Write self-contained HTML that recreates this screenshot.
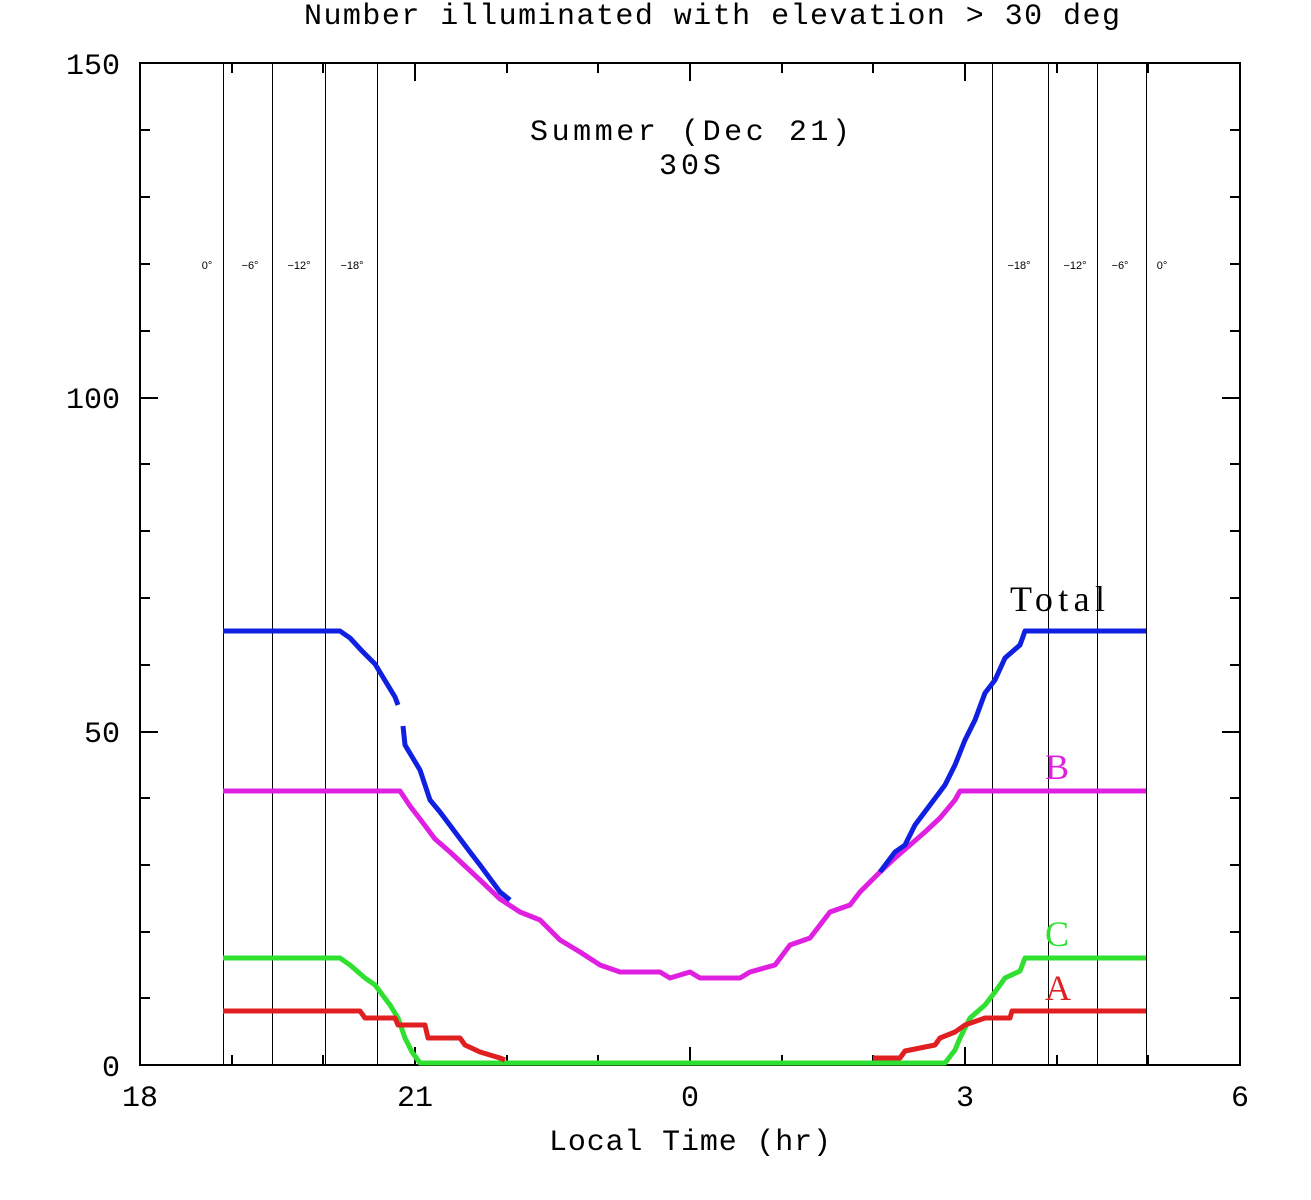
<!DOCTYPE html>
<html><head><style>body{margin:0;background:#fff}</style></head><body>
<svg width="1311" height="1195" xmlns="http://www.w3.org/2000/svg" font-family="Liberation Sans, sans-serif">
<rect width="1311" height="1195" fill="#fff"/>
<text x="712" y="24" text-anchor="middle" font-family="Liberation Mono, monospace" font-size="30" textLength="816">Number illuminated with elevation &gt; 30 deg</text>
<rect x="140" y="63" width="1100" height="1002" fill="none" stroke="#000" stroke-width="2"/>
<g stroke="#000" stroke-width="2">
<path d="M232 1065v-10M323 1065v-10M415 1065v-18M507 1065v-10M598 1065v-10M690 1065v-18M782 1065v-10M873 1065v-10M965 1065v-18M1057 1065v-10M1148 1065v-10"/>
<path d="M232 63v10M323 63v10M415 63v18M507 63v10M598 63v10M690 63v18M782 63v10M873 63v10M965 63v18M1057 63v10M1148 63v10"/>
<path d="M140 998h10M140 932h10M140 865h10M140 798h10M140 732h18M140 665h10M140 598h10M140 531h10M140 464h10M140 398h18M140 331h10M140 264h10M140 197h10M140 130h10"/>
<path d="M1240 998h-10M1240 932h-10M1240 865h-10M1240 798h-10M1240 732h-18M1240 665h-10M1240 598h-10M1240 531h-10M1240 464h-10M1240 398h-18M1240 331h-10M1240 264h-10M1240 197h-10M1240 130h-10"/>
</g>
<g stroke="#000" stroke-width="1" shape-rendering="crispEdges"><path d="M223.5 63V1065M272.5 63V1065M325.5 63V1065M377.5 63V1065M992.5 63V1065M1048.5 63V1065M1097.5 63V1065M1146.5 63V1065"/></g>
<g font-size="11" text-anchor="middle"><text x="207" y="269">0°</text><text x="250" y="269">−6°</text><text x="299" y="269">−12°</text><text x="352" y="269">−18°</text><text x="1019" y="269">−18°</text><text x="1075" y="269">−12°</text><text x="1120" y="269">−6°</text><text x="1162" y="269">0°</text></g>
<g font-family="Liberation Mono, monospace" font-size="30" text-anchor="end"><text x="120" y="74">150</text><text x="120" y="408">100</text><text x="120" y="742">50</text><text x="120" y="1076">0</text></g>
<g font-family="Liberation Mono, monospace" font-size="30" text-anchor="middle"><text x="140" y="1106">18</text><text x="415" y="1106">21</text><text x="690" y="1106">0</text><text x="965" y="1106">3</text><text x="1240" y="1106">6</text>
<text x="690" y="1150" textLength="282">Local Time (hr)</text><text x="690" y="140" textLength="320">Summer (Dec 21)</text><text x="690" y="174" textLength="62">30S</text></g>
<g font-family="Liberation Serif, serif" font-size="36"><text x="1010" y="611" textLength="95">Total</text><text x="1045" y="779" fill="#e020e0">B</text><text x="1045" y="946" fill="#30e030">C</text><text x="1045" y="1000" fill="#e02020">A</text></g>
<g fill="none" stroke-width="5" stroke-linejoin="round">
<polyline stroke="#30e030" points="223,958 340,958 350,965 365,978 375,985 390,1005 398,1018 405,1038 412,1052 420,1063 945,1063 955,1050 960,1038 970,1018 985,1005 995,992 1005,978 1020,971 1025,958 1146,958"/>
<polyline stroke="#e02020" points="223,1011 360,1011 365,1018 395,1018 398,1025 425,1025 428,1038 460,1038 465,1045 480,1052 500,1058 505,1060"/>
<polyline stroke="#e02020" points="873,1058 900,1058 905,1051 935,1045 940,1038 955,1032 965,1025 985,1018 1010,1018 1012,1011 1146,1011"/>
<polyline stroke="#e020e0" points="223,791 400,791 410,806 420,819 435,839 450,852 465,866 480,880 500,899 520,912 540,920 560,940 580,952 600,965 620,972 660,972 670,978 690,972 700,978 740,978 750,972 775,965 790,945 810,938 830,912 850,905 860,892 880,872 895,858 910,845 925,832 940,818 955,800 960,791 1146,791"/>
<polyline stroke="#1020e0" points="223,631 340,631 350,638 362,651 375,664 395,697 398,705"/>
<polyline stroke="#1020e0" points="403,726 405,745 420,770 430,800 440,812 455,832 470,852 480,865 500,892 510,900"/>
<polyline stroke="#1020e0" points="880,872 895,852 905,845 915,825 930,805 945,785 955,765 965,740 975,720 985,693 995,680 1005,658 1020,645 1025,631 1146,631"/>
</g>
</svg>
</body></html>
